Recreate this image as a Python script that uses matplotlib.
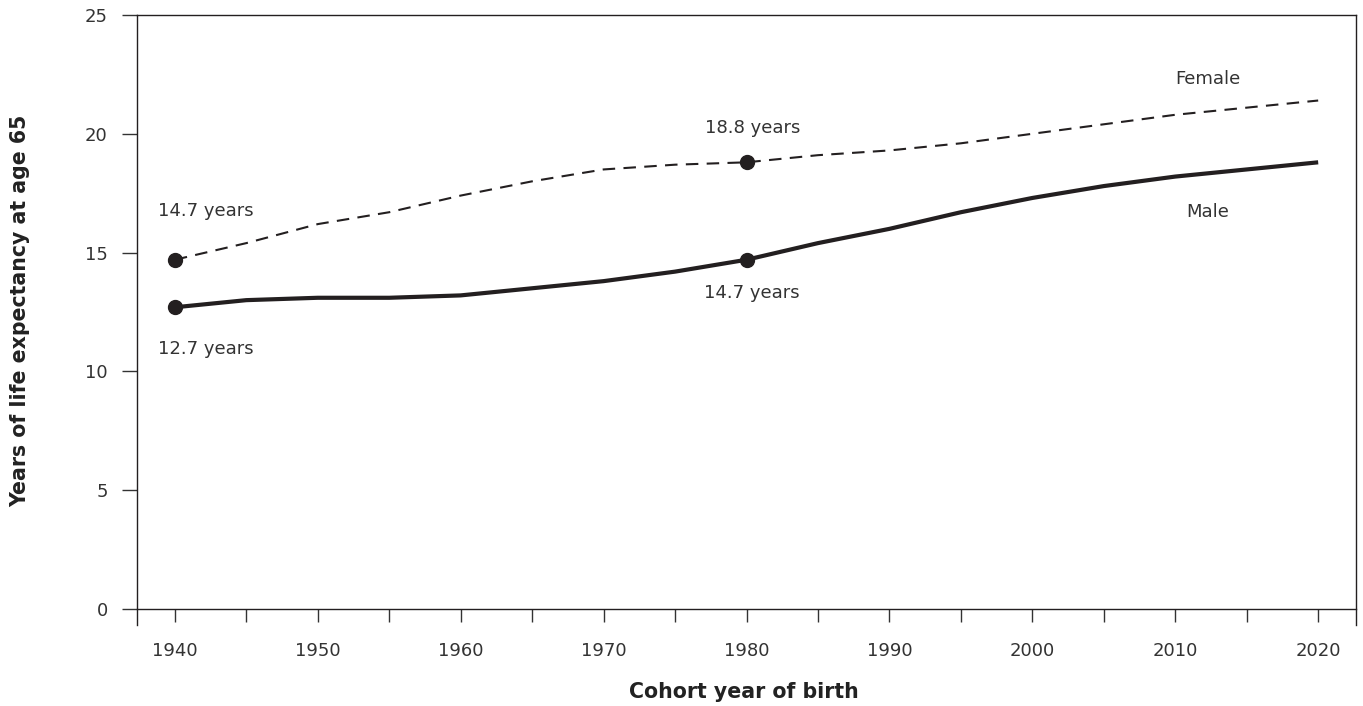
import matplotlib
matplotlib.use("Agg")
import matplotlib.pyplot as plt
from matplotlib.ticker import MultipleLocator

years = [1940, 1945, 1950, 1955, 1960, 1965, 1970, 1975, 1980, 1985, 1990,
         1995, 2000, 2005, 2010, 2015, 2020]
female = [14.7, 15.4, 16.2, 16.7, 17.4, 18.0, 18.5, 18.7, 18.8, 19.1, 19.3,
          19.6, 20.0, 20.4, 20.8, 21.1, 21.4]
male = [12.7, 13.0, 13.1, 13.1, 13.2, 13.5, 13.8, 14.2, 14.7, 15.4, 16.0,
        16.7, 17.3, 17.8, 18.2, 18.5, 18.8]
highlight_years = [1940, 1980]
y_ticks = [0, 5, 10, 15, 20, 25]
x_ticks = [1940, 1950, 1960, 1970, 1980, 1990, 2000, 2010, 2020]

plt.rcParams['font.family'] = ['DejaVu Sans']
TXT = '#333333'
LINE = '#231f20'

fig = plt.figure(figsize=(13.63, 7.06), dpi=100)
ax = fig.add_axes([0.1005, 0.1147, 0.8944, 0.8641])

ax.plot(years, female, color=LINE, lw=1.5, dashes=(6, 4))
ax.plot(years, male, color=LINE, lw=3.0, solid_capstyle='butt')

for yr in highlight_years:
    i = years.index(yr)
    ax.plot([yr], [female[i]], 'o', color=LINE, ms=10)
    ax.plot([yr], [male[i]], 'o', color=LINE, ms=10)

fs = 13
ax.text(1942.2, 16.75, f"{female[0]} years", ha='center', va='center', fontsize=fs, color=TXT)
ax.text(1942.2, 10.95, f"{male[0]} years", ha='center', va='center', fontsize=fs, color=TXT)
i80 = years.index(1980)
ax.text(1980.4, 20.25, f"{female[i80]} years", ha='center', va='center', fontsize=fs, color=TXT)
ax.text(1980.4, 13.3, f"{male[i80]} years", ha='center', va='center', fontsize=fs, color=TXT)
ax.text(2012.3, 22.3, "Female", ha='center', va='center', fontsize=fs, color=TXT)
ax.text(2012.3, 16.7, "Male", ha='center', va='center', fontsize=fs, color=TXT)

ax.set_xlim(1937.35, 2022.65)
ax.set_ylim(-0.67, 25)
ax.spines['bottom'].set_position(('data', 0))
for s in ax.spines.values():
    s.set_color(LINE)
    s.set_linewidth(1.0)

ax.set_yticks(y_ticks)
ax.set_xticks(x_ticks)
ax.xaxis.set_minor_locator(MultipleLocator(5))
ax.tick_params(axis='x', which='both', direction='out', length=9, width=1.0,
               color=TXT, labelsize=fs, labelcolor=TXT, pad=15)
ax.tick_params(axis='y', which='both', direction='out', length=11, width=1.0,
               color=TXT, labelsize=fs, labelcolor=TXT, pad=10)

fig.text(0.5455, 0.02, "Cohort year of birth", ha='center', va='center',
         fontsize=14.8, fontweight='bold', color='#222222')
fig.text(0.0147, 0.56, "Years of life expectancy at age 65", ha='center', va='center',
         rotation=90, fontsize=14.8, fontweight='bold', color='#222222')

fig.savefig("out.png", dpi=100)
